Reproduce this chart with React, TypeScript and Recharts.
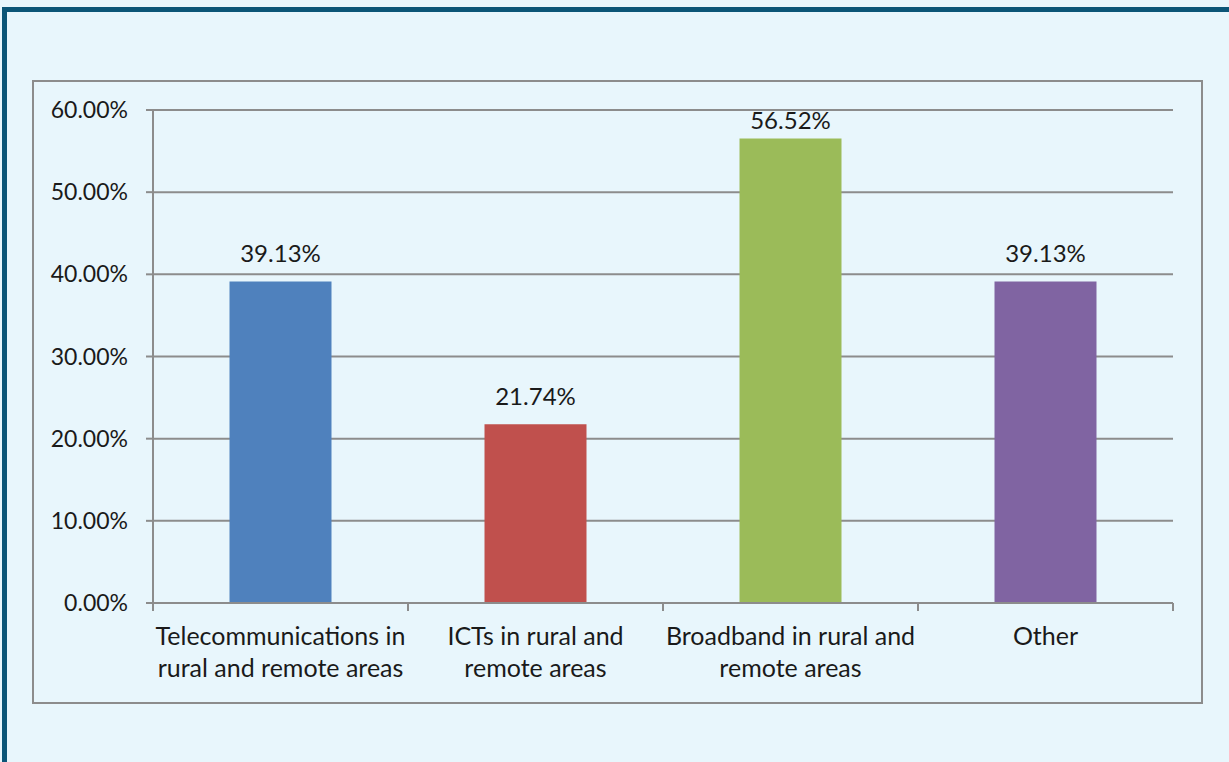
import React from "react"
import { BarChart, Bar, XAxis, YAxis, CartesianGrid, Cell, LabelList } from "recharts"

const categories = [
    "Telecommunications in rural and remote areas",
    "ICTs in rural and remote areas",
    "Broadband in rural and remote areas",
    "Other",
]
const shares = [0.3913, 0.2174, 0.5652, 0.3913]
const yTicks = [0, 0.1, 0.2, 0.3, 0.4, 0.5, 0.6]

// two-line wrapping as in the original labels
const labelLines: Record<string, string[]> = {
    "Telecommunications in rural and remote areas": ["Telecommunications in", "rural and remote areas"],
    "ICTs in rural and remote areas": ["ICTs in rural and", "remote areas"],
    "Broadband in rural and remote areas": ["Broadband in rural and", "remote areas"],
    "Other": ["Other"],
}

const COLORS = ["#4f81bd", "#c0504d", "#9bbb59", "#8064a2"]
const GRID = "#8c8c8c"
const FONT = "Lato, 'Open Sans', sans-serif"
const TEXT = "#1a1a1a"
const MARGIN = { top: 110, right: 56, bottom: 79, left: 53 }

const data = categories.map((name, i) => ({ name, value: shares[i] }))

const pct = (v: number) => `${(v * 100).toFixed(2)}%`

function CategoryTick(props: any) {
    const { x, y, payload, index } = props
    const half = payload.offset || 0
    const lines = labelLines[payload.value] || [payload.value]
    return (
        <g>
            <line x1={x - half} y1={y} x2={x - half} y2={y + 8} stroke={GRID} strokeWidth={2} />
            {index === categories.length - 1 && (
                <line x1={x + half} y1={y} x2={x + half} y2={y + 8} stroke={GRID} strokeWidth={2} />
            )}
            <text x={x} y={y + 42} textAnchor="middle" fontSize={25} fontFamily={FONT} fill={TEXT}>
                {lines.map((l, i) => (
                    <tspan key={i} x={x} dy={i === 0 ? 0 : 32}>{l}</tspan>
                ))}
            </text>
        </g>
    )
}

// label above the bar, pushed down when it would leave the plot area (like Excel)
function ValueLabel(props: any) {
    const { x, y, width, value } = props
    const baseline = Math.max(y - 19, MARGIN.top + 19)
    return (
        <text x={x + width / 2} y={baseline} textAnchor="middle" fontSize={24} fontFamily={FONT} fill={TEXT}>
            {pct(Number(value))}
        </text>
    )
}

export default function App() {
    return (
        <div style={{ position: "fixed", left: 0, top: 0, width: 1229, height: 762, background: "#e8f6fc", overflow: "hidden" }}>
            <div style={{ position: "absolute", left: 2, top: 7, width: 1260, height: 800, border: "5px solid #0b5577", boxSizing: "border-box" }} />
            <div style={{ position: "absolute", left: 32, top: 80, width: 1171, height: 624, border: `2px solid ${GRID}`, boxSizing: "border-box" }} />
            <div style={{ position: "absolute", left: 0, top: 0 }}>
                <BarChart
                    width={1229}
                    height={762}
                    data={data}
                    margin={MARGIN}
                    barCategoryGap="30%"
                >
                    <CartesianGrid vertical={false} stroke={GRID} strokeWidth={2} />
                    <YAxis
                        width={100}
                        domain={[0, 0.6]}
                        ticks={yTicks}
                        tickFormatter={pct}
                        axisLine={{ stroke: GRID, strokeWidth: 2 }}
                        tickLine={{ stroke: GRID, strokeWidth: 2 }}
                        tickSize={7}
                        tickMargin={18}
                        tick={{ fontSize: 23, fontFamily: FONT, fill: TEXT }}
                    />
                    <XAxis
                        dataKey="name"
                        height={80}
                        interval={0}
                        axisLine={{ stroke: GRID, strokeWidth: 2 }}
                        tickLine={false}
                        tickSize={0}
                        tickMargin={0}
                        tick={<CategoryTick />}
                    />
                    <Bar dataKey="value" isAnimationActive={false}>
                        {data.map((_d, i) => (
                            <Cell key={`cell-${i}`} fill={COLORS[i]} />
                        ))}
                        <LabelList dataKey="value" content={<ValueLabel />} />
                    </Bar>
                </BarChart>
            </div>
        </div>
    )
}
